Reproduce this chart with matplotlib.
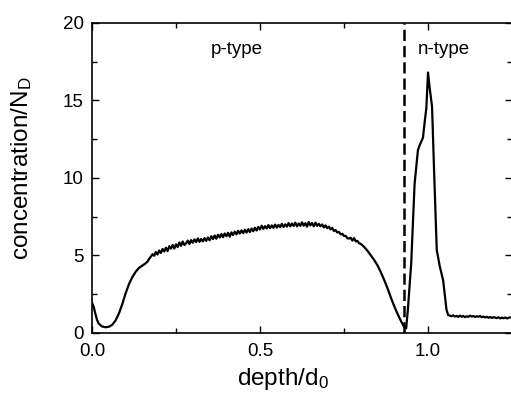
import matplotlib
matplotlib.use("Agg")
import matplotlib.pyplot as plt
from matplotlib.ticker import MultipleLocator

plt.rcParams['font.family'] = ['Liberation Sans', 'DejaVu Sans']
plt.rcParams['mathtext.fontset'] = 'custom'
plt.rcParams['mathtext.rm'] = 'Liberation Sans'
plt.rcParams['mathtext.it'] = 'Liberation Sans'

# depth profile (depth/d0, concentration/N_D)
depth = [0.00, 0.005, 0.01, 0.015, 0.02, 0.03, 0.04, 0.05, 0.06, 0.07, 0.08, 0.09,
         0.10, 0.11, 0.12, 0.13, 0.14,
         0.150, 0.155, 0.160, 0.165, 0.170, 0.175, 0.180, 0.185, 0.190, 0.195,
         0.200, 0.205, 0.210, 0.215, 0.220, 0.225, 0.230, 0.235, 0.240, 0.245,
         0.250, 0.255, 0.260, 0.265, 0.270, 0.275, 0.280, 0.285, 0.290, 0.295,
         0.300, 0.305, 0.310, 0.315, 0.320, 0.325, 0.330, 0.335, 0.340, 0.345,
         0.350, 0.355, 0.360, 0.365, 0.370, 0.375, 0.380, 0.385, 0.390, 0.395,
         0.400, 0.405, 0.410, 0.415, 0.420, 0.425, 0.430, 0.435, 0.440, 0.445,
         0.450, 0.455, 0.460, 0.465, 0.470, 0.475, 0.480, 0.485, 0.490, 0.495,
         0.500, 0.505, 0.510, 0.515, 0.520, 0.525, 0.530, 0.535, 0.540, 0.545,
         0.550, 0.555, 0.560, 0.565, 0.570, 0.575, 0.580, 0.585, 0.590, 0.595,
         0.600, 0.605, 0.610, 0.615, 0.620, 0.625, 0.630, 0.635, 0.640, 0.645,
         0.650, 0.655, 0.660, 0.665, 0.670, 0.675, 0.680, 0.685, 0.690, 0.695,
         0.700, 0.705, 0.710, 0.715, 0.720, 0.725, 0.730, 0.735, 0.740, 0.745,
         0.750, 0.755, 0.760, 0.765, 0.770, 0.775, 0.780, 0.785, 0.790, 0.795,
         0.80, 0.81, 0.82, 0.83, 0.84, 0.85, 0.86, 0.87, 0.88, 0.89,
         0.90, 0.91, 0.92, 0.93, 0.935, 0.94, 0.95, 0.96, 0.97, 0.975,
         0.985, 0.99, 0.995, 1.000, 1.005, 1.012, 1.018, 1.026, 1.035, 1.045,
         1.055, 1.06, 1.065, 1.07, 1.075, 1.08, 1.085, 1.09, 1.095, 1.10,
         1.105, 1.11, 1.115, 1.12, 1.125, 1.13, 1.135, 1.14, 1.145, 1.15,
         1.155, 1.16, 1.165, 1.17, 1.175, 1.18, 1.185, 1.19, 1.195, 1.20,
         1.205, 1.21, 1.215, 1.22, 1.225, 1.23, 1.235, 1.24, 1.245, 1.25]
conc = [1.95, 1.7, 1.25, 0.85, 0.6, 0.42, 0.37, 0.4, 0.52, 0.8, 1.25, 1.85,
        2.55, 3.15, 3.6, 3.95, 4.2,
        4.35, 4.42, 4.50, 4.60, 4.78, 4.92, 5.08, 4.98, 5.22, 5.06,
        5.32, 5.16, 5.42, 5.26, 5.50, 5.28, 5.60, 5.44, 5.68, 5.45,
        5.72, 5.54, 5.84, 5.62, 5.90, 5.68, 5.78, 5.96, 5.74, 5.99,
        5.82, 6.04, 5.86, 6.10, 5.88, 6.06, 5.91, 6.12, 5.94, 6.16,
        5.98, 6.24, 6.06, 6.29, 6.08, 6.34, 6.16, 6.39, 6.18, 6.42,
        6.24, 6.46, 6.21, 6.49, 6.32, 6.54, 6.36, 6.59, 6.41, 6.62,
        6.44, 6.66, 6.48, 6.70, 6.51, 6.74, 6.56, 6.79, 6.61, 6.84,
        6.68, 6.92, 6.72, 6.89, 6.74, 6.96, 6.76, 6.94, 6.78, 6.99,
        6.80, 6.97, 6.82, 7.04, 6.84, 7.01, 6.86, 7.09, 6.88, 7.06,
        6.90, 7.12, 6.88, 7.06, 6.91, 7.14, 6.92, 7.08, 6.86, 7.16,
        6.94, 7.09, 6.88, 7.12, 6.91, 7.04, 6.88, 7.00, 6.81, 6.94,
        6.76, 6.86, 6.68, 6.78, 6.58, 6.64, 6.48, 6.52, 6.36, 6.40,
        6.26, 6.26, 6.11, 6.09, 6.14, 5.96, 6.12, 5.91, 5.94, 5.78,
        5.75, 5.55, 5.3, 5.0, 4.7, 4.35, 3.9, 3.4, 2.85, 2.25,
        1.7, 1.2, 0.75, 0.35, 0.3, 1.5, 4.5, 9.6, 11.8, 12.1,
        12.6, 13.6, 14.5, 16.8, 15.8, 14.6, 10.5, 5.35, 4.3, 3.4,
        1.5, 1.15, 1.12, 1.08, 1.14, 1.06, 1.10, 1.04, 1.12, 1.05,
        1.10, 1.02, 1.08, 1.04, 1.12, 1.06, 1.10, 1.03, 1.08, 1.05,
        1.09, 1.02, 1.06, 1.00, 1.05, 0.98, 1.03, 0.97, 1.02, 0.99,
        0.96, 1.01, 0.94, 0.99, 0.95, 1.00, 0.94, 0.98, 1.01, 0.97]
junction = 0.929
region_labels = ['p-type', 'n-type']
region_x = [0.43, 1.048]

fig = plt.figure(figsize=(5.11, 3.95), dpi=100)
ax = fig.add_axes([0.18, 0.157, 0.822, 0.785])

ax.plot(depth, conc, color='black', lw=1.6)
ax.axvline(junction, color='black', lw=1.8, dashes=(4.5, 2))

for lab, xx in zip(region_labels, region_x):
    ax.text(xx, 18.3, lab, ha='center', va='center', fontsize=13.5)

ax.set_xlim(0, 1.25)
ax.set_ylim(0, 20)
ax.xaxis.set_major_locator(MultipleLocator(0.5))
ax.xaxis.set_minor_locator(MultipleLocator(0.25))
ax.yaxis.set_major_locator(MultipleLocator(5))
ax.yaxis.set_minor_locator(MultipleLocator(2.5))
ax.tick_params(which='both', direction='in', top=True, right=True, labelsize=13.5)
ax.tick_params(which='major', length=5, width=1)
ax.tick_params(which='minor', length=3.5, width=1)
ax.tick_params(axis='y', pad=6)
ax.tick_params(axis='x', pad=7)
for sp in ax.spines.values():
    sp.set_linewidth(1.2)

ax.set_xlabel(r'depth/d$_\mathrm{0}$', fontsize=17.5)
ax.set_ylabel(r'concentration/N$_\mathrm{D}$', fontsize=17.5)
ax.xaxis.set_label_coords(0.455, -0.108)
ax.yaxis.set_label_coords(-0.138, 0.53)

fig.savefig('out.png', dpi=100)
